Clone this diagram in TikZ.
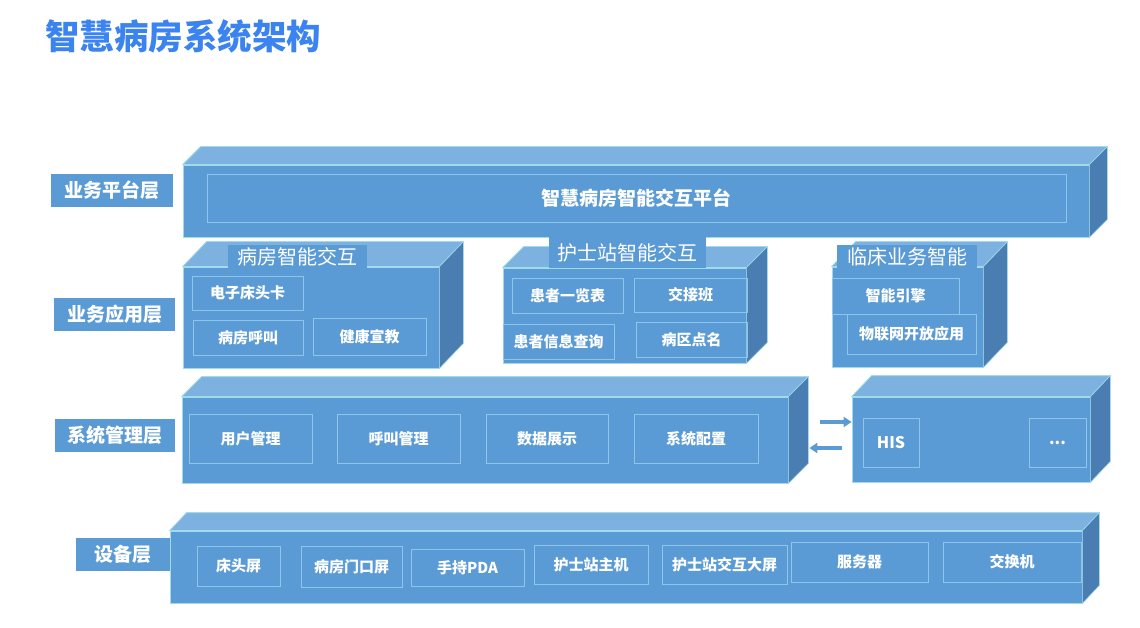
\documentclass[tikz,border=0pt]{standalone}
\usepackage{fontspec}
\setmainfont{Noto Sans CJK SC}
\usetikzlibrary{arrows.meta}
\definecolor{frontc}{HTML}{5B9BD5}
\definecolor{topc}{HTML}{7DB1DF}
\definecolor{sidec}{HTML}{4A7EB2}
\definecolor{edgec}{HTML}{9FDBEA}
\definecolor{innerc}{HTML}{8EC6EA}
\definecolor{titleblue}{HTML}{3B84F0}
\tikzset{
  frontface/.style={rectangle, fill=frontc, draw=edgec, line width=0.8pt, inner sep=0pt},
  topface/.style={fill=topc, draw=edgec, line width=0.8pt, line join=round},
  sideface/.style={fill=sidec, draw=edgec, line width=0.6pt, line join=round},
  subbox/.style={rectangle, draw=innerc, line width=0.6pt, inner sep=0pt, text=white, font=\bfseries\fontsize{15}{15}\selectfont},
  tabbox/.style={rectangle, fill=frontc, inner sep=0pt, text=white, font=\fontsize{20}{20}\selectfont},
  layerlab/.style={rectangle, fill=frontc, inner sep=0pt, text=white, font=\bfseries\fontsize{19}{19}\selectfont},
  flowarrow/.style={draw=frontc, line width=3.2pt, -{Triangle[length=8pt,width=10pt]}}
}
% name, x1, y1, x2, y2, dx, dy
\newcommand\mkcube[7]{%
  \pgfmathsetmacro\mkw{#4-#2}\pgfmathsetmacro\mkh{#5-#3}%
  \pgfmathsetmacro\mkx{(#2+#4)/2}\pgfmathsetmacro\mky{(#3+#5)/2}%
  \node[frontface, minimum width=\mkw pt, minimum height=\mkh pt] (#1) at (\mkx,\mky) {};
  \filldraw[topface] (#1.north west) -- ++(#6,-#7) -- ([shift={(#6,-#7)}]#1.north east) -- (#1.north east) -- cycle;
  \filldraw[sideface] (#1.north east) -- ++(#6,-#7) -- ([shift={(#6,-#7)}]#1.south east) -- (#1.south east) -- cycle;
}
% style, name, x1, y1, x2, y2, text
\newcommand\mkrect[7]{%
  \pgfmathsetmacro\mkw{#5-#3}\pgfmathsetmacro\mkh{#6-#4}%
  \pgfmathsetmacro\mkx{(#3+#5)/2}\pgfmathsetmacro\mky{(#4+#6)/2}%
  \node[#1, minimum width=\mkw pt, minimum height=\mkh pt] (#2) at (\mkx,\mky) {#7};
}
\begin{document}
\begin{tikzpicture}[x=1pt,y=-1pt]
\useasboundingbox (0,0) rectangle (1140,628);
% title
\node[anchor=west, inner sep=0pt, text=titleblue, font=\bfseries\fontsize{34.5}{34.5}\selectfont] (title) at (45,36) {智慧病房系统架构};

% ---------- platform layer
\mkrect{layerlab}{lab1}{51}{174}{173}{207}{业务平台层}
\mkcube{plat}{183}{165}{1089}{237}{18}{18}
\mkrect{subbox, font=\bfseries\fontsize{19}{19}\selectfont}{platin}{207}{174}{1066}{222}{智慧病房智能交互平台}

% ---------- application layer
\mkrect{layerlab}{lab2}{54}{298}{175}{331}{业务应用层}
\mkcube{appa}{183}{267}{439}{368}{24}{25}
\mkrect{tabbox}{taba}{228}{245}{367}{268}{病房智能交互}
\mkrect{subbox}{a1}{192}{276}{303}{310}{电子床头卡}
\mkrect{subbox}{a2}{193}{320}{303}{355}{病房呼叫}
\mkrect{subbox}{a3}{313}{318}{426}{355}{健康宣教}

\mkcube{appb}{503}{268}{746}{363}{21}{21}
\mkrect{tabbox}{tabb}{549}{237}{706}{268}{护士站智能交互}
\mkrect{subbox}{b1}{512}{278}{623}{313}{患者一览表}
\mkrect{subbox}{b2}{634}{278}{747}{312}{交接班}
\mkrect{subbox}{b3}{503}{324}{614}{359}{患者信息查询}
\mkrect{subbox}{b4}{636}{322}{747}{357}{病区点名}

\mkcube{appc}{832}{267}{983}{367}{24}{25}
\mkrect{tabbox}{tabc}{837}{245}{977}{268}{临床业务智能}
\mkrect{subbox}{c1}{832}{278}{959}{314}{智能引擎}
\mkrect{subbox}{c2}{847}{314}{976}{354}{物联网开放应用}

% ---------- system management layer
\mkrect{layerlab}{lab3}{55}{419}{175}{452}{系统管理层}
\mkcube{sys}{182}{397}{788}{483}{20}{20}
\mkrect{subbox}{s1}{189}{414}{312}{463}{用户管理}
\mkrect{subbox}{s2}{337}{414}{460}{463}{呼叫管理}
\mkrect{subbox}{s3}{486}{414}{608}{463}{数据展示}
\mkrect{subbox}{s4}{634}{414}{758}{463}{系统配置}

\mkcube{his}{852}{397}{1090}{482}{20}{21}
\mkrect{subbox, font=\bfseries\fontsize{16}{16}\selectfont}{h1}{863}{418}{919}{467}{HIS}
\mkrect{subbox, font=\bfseries\fontsize{16}{16}\selectfont}{h2}{1029}{418}{1086}{467}{...}

\coordinate (ra) at (820,422);
\coordinate (la) at (842,448);
\draw[flowarrow] (ra) -- (his.west |- ra);
\draw[flowarrow] (la) -- ([xshift=21pt]sys.east |- la);

% ---------- device layer
\mkcube{dev}{170}{531}{1082}{603}{17}{18}
\mkrect{layerlab}{lab4}{76}{538}{170}{571}{设备层}
\mkrect{subbox}{d1}{197}{546}{280}{586}{床头屏}
\mkrect{subbox}{d2}{301}{546}{402}{587}{病房门口屏}
\mkrect{subbox}{d3}{411}{549}{524}{586}{手持PDA}
\mkrect{subbox}{d4}{534}{545}{648}{584}{护士站主机}
\mkrect{subbox}{d5}{662}{545}{787}{584}{护士站交互大屏}
\mkrect{subbox}{d6}{791}{542}{928}{582}{服务器}
\mkrect{subbox}{d7}{943}{542}{1081}{582}{交换机}
\end{tikzpicture}
\end{document}
